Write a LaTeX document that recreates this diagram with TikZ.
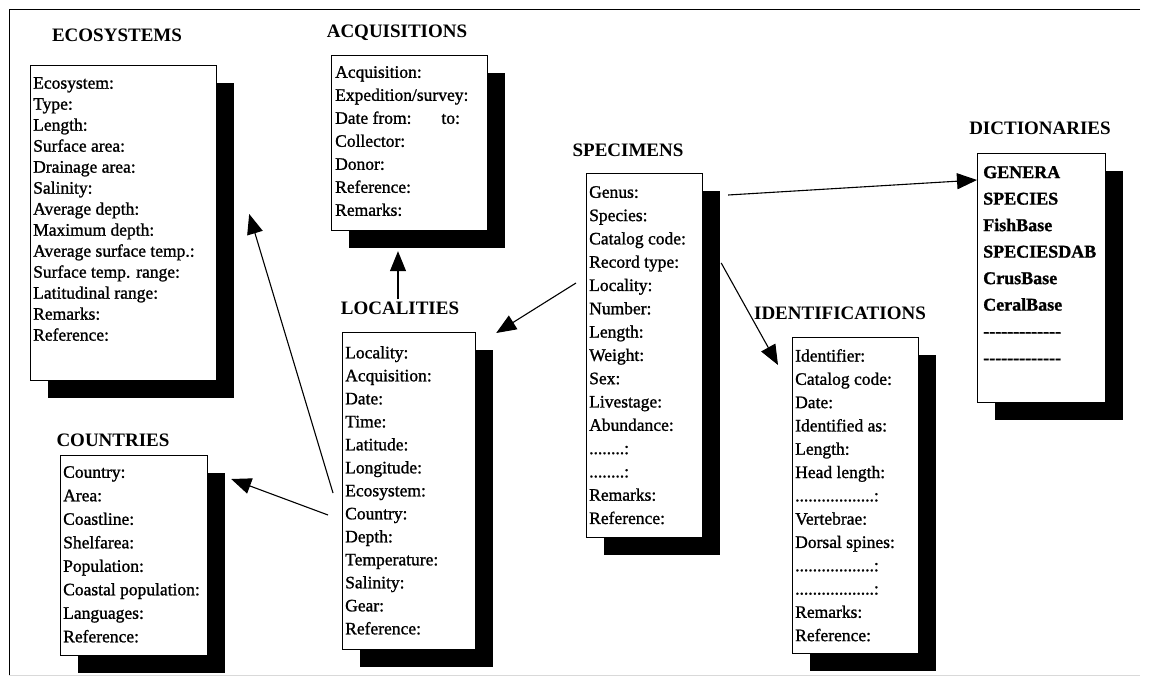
\documentclass[tikz,border=0pt]{standalone}
\usepackage{fontspec}
\setmainfont{Liberation Serif}
\newfontfamily\entryfont{Liberation Serif}[FakeBold=1.2]
\usetikzlibrary{arrows.meta,shadows,calc}
\newcommand\dashrow{-{}-{}-{}-{}-{}-{}-{}-{}-{}-{}-{}-{}-}
\tikzset{
  dbbox/.style={draw, line width=1.2pt, fill=white, anchor=north west, inner sep=0pt,
    drop shadow={shadow xshift=17pt, shadow yshift=-17pt, fill=black, opacity=1}},
  dbtitle/.style={font=\fontsize{19}{22}\selectfont\bfseries, inner sep=0pt},
  dbtext/.style={anchor=north west, inner sep=0pt, align=left,
    font=\entryfont\fontsize{17.5}{23.3}\selectfont},
  link/.style={line width=1.1pt, -{Triangle[length=20pt,width=16pt]}},
}
\begin{document}
\begin{tikzpicture}[x=1pt,y=-1pt]
\useasboundingbox[fill=white] (0,0) rectangle (1150,676);
% frame
\draw[line width=1pt] (1140,10) -- (9,10) -- (9,676);
\draw[gray!30, line width=0.6pt] (9,675) -- (1140,675);

% boxes
\node[dbbox, minimum width=186pt, minimum height=315pt] (eco) at (30,65) {};
\node[dbbox, minimum width=156pt, minimum height=175pt] (acq) at (331,55) {};
\node[dbbox, minimum width=116pt, minimum height=364pt] (spe) at (586,173) {};
\node[dbbox, minimum width=128pt, minimum height=249pt] (dic) at (977,153) {};
\node[dbbox, minimum width=126pt, minimum height=316pt] (ide) at (792,337) {};
\node[dbbox, minimum width=133pt, minimum height=317pt] (loc) at (342,332) {};
\node[dbbox, minimum width=147pt, minimum height=200pt] (cou) at (60,455) {};

% titles
\node[dbtitle] (ecoT) at (117,35) {ECOSYSTEMS};
\node[dbtitle] (acqT) at (397,33) {ACQUISITIONS};
\node[dbtitle] (speT) at (628,150) {SPECIMENS};
\node[dbtitle] (dicT) at (1040,128) {DICTIONARIES};
\node[dbtitle] (ideT) at (840,313) {IDENTIFICATIONS};
\node[dbtitle] (locT) at (400,308) {LOCALITIES};
\node[dbtitle] (couT) at (113,440) {COUNTRIES};

% contents
\node[dbtext, font=\entryfont\fontsize{17.5}{21}\selectfont] (ecoC) at ($(eco.north west)+(3,12)$) {Ecosystem:\\Type:\\Length:\\Surface area:\\Drainage area:\\Salinity:\\Average depth:\\Maximum depth:\\Average surface temp.:\\Surface temp. range:\\Latitudinal range:\\Remarks:\\Reference:};
\node[dbtext, font=\entryfont\fontsize{17.5}{23}\selectfont] (acqC) at ($(acq.north west)+(4,11)$) {Acquisition:\\Expedition/survey:\\Date from:\hspace{30pt}to:\\Collector:\\Donor:\\Reference:\\Remarks:};
\node[dbtext] (speC) at ($(spe.north west)+(3,13)$) {Genus:\\Species:\\Catalog code:\\Record type:\\Locality:\\Number:\\Length:\\Weight:\\Sex:\\Livestage:\\Abundance:\\........:\\........:\\Remarks:\\Reference:};
\node[dbtext, font=\entryfont\bfseries\fontsize{18}{26.5}\selectfont] (dicC) at ($(dic.north west)+(6,13)$) {GENERA\\SPECIES\\FishBase\\SPECIESDAB\\CrusBase\\CeralBase\\\dashrow\\\dashrow};
\node[dbtext] (ideC) at ($(ide.north west)+(3,12)$) {Identifier:\\Catalog code:\\Date:\\Identified as:\\Length:\\Head length:\\..................:\\Vertebrae:\\Dorsal spines:\\..................:\\..................:\\Remarks:\\Reference:};
\node[dbtext, font=\entryfont\fontsize{17.5}{23}\selectfont] (locC) at ($(loc.north west)+(3,14)$) {Locality:\\Acquisition:\\Date:\\Time:\\Latitude:\\Longitude:\\Ecosystem:\\Country:\\Depth:\\Temperature:\\Salinity:\\Gear:\\Reference:};
\node[dbtext, font=\entryfont\fontsize{17.5}{23.5}\selectfont] (couC) at ($(cou.north west)+(3,11)$) {Country:\\Area:\\Coastline:\\Shelfarea:\\Population:\\Coastal population:\\Languages:\\Reference:};

% connectors
\draw[link] ($(spe.north east)+(25,22)$) -- ($(dic.north west)+(0,27)$);
\draw[link] ($(spe.north east)+(18,90)$) -- ($(ide.north west)+(-14,28)$);
\draw[link] ($(spe.north west)+(-10,110)$) -- ($(loc.north east)+(20,1)$);
\draw[link] ($(locT.north)+(-2,-2)$) -- ($(acq.south west)+(67,20)$);
\draw[link] ($(loc.north west)+(-9,161)$) -- ($(eco.north east)+(32,149)$);
\draw[link] ($(loc.north west)+(-14,183)$) -- ($(cou.north east)+(23,24)$);
\end{tikzpicture}
\end{document}
